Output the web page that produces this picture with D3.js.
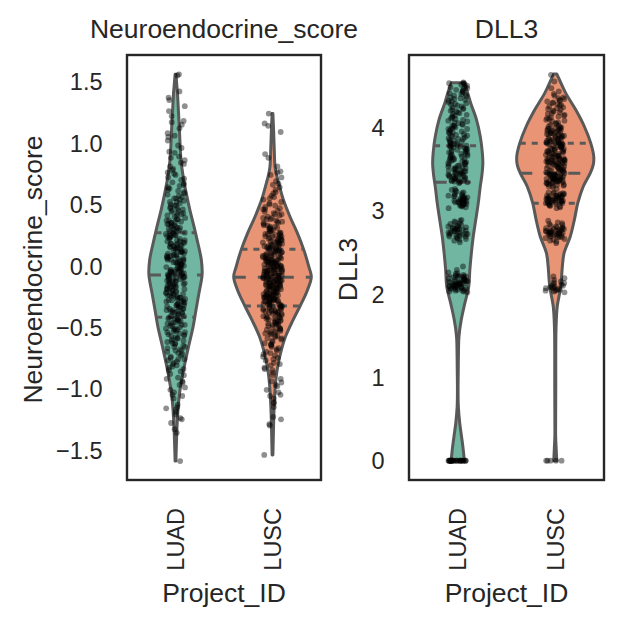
<!DOCTYPE html>
<html><head><meta charset="utf-8">
<script src="https://cdn.jsdelivr.net/npm/d3@7"></script>
<style>body{margin:0;background:#fff}</style>
</head><body>
<svg id="chart" width="623" height="623"></svg>
<script>
// ---------------- data ----------------
const categories = ["LUAD", "LUSC"];
const panelTitles = ["Neuroendocrine_score", "DLL3"];
const yLabels = ["Neuroendocrine_score", "DLL3"];
const xLabel = "Project_ID";
const neTicks = [-1.5, -1.0, -0.5, 0.0, 0.5, 1.0, 1.5];
const dllTicks = [0, 1, 2, 3, 4];
const neDomain = [-1.744, 1.717];
const dllDomain = [-0.232, 4.868];

// violin outlines: values and relative half-widths
const neLuadGrid = [-1.59,-1.45,-1.31,-1.17,-1.04,-0.90,-0.77,-0.63,-0.50,-0.36,-0.22,-0.07,0.05,0.18,0.32,0.45,0.59,0.72,0.86,1.00,1.13,1.25,1.40,1.45,1.56];
const neLuadDens = [0.010,0.023,0.039,0.064,0.103,0.175,0.258,0.356,0.451,0.528,0.606,0.686,0.665,0.580,0.477,0.374,0.278,0.201,0.142,0.116,0.098,0.077,0.052,0.039,0.010];
const neLuscGrid = [-1.54,-1.39,-1.25,-1.119,-0.98,-0.848,-0.712,-0.576,-0.44,-0.327,-0.196,-0.09,-0.006,0.13,0.265,0.40,0.54,0.67,0.74,0.81,0.94,1.08,1.24];
const neLuscDens = [0.010,0.021,0.031,0.046,0.072,0.119,0.206,0.335,0.531,0.711,0.902,1.000,0.936,0.807,0.644,0.451,0.278,0.162,0.103,0.064,0.046,0.031,0.010];
const dllLuadGrid = [0,0.15,0.29,0.45,0.65,0.85,1.09,1.29,1.49,1.69,1.89,2.09,2.29,2.49,2.69,2.89,3.09,3.29,3.43,3.57,3.69,3.89,4.09,4.29,4.43,4.536];
const dllLuadDens = [0.169,0.136,0.097,0.051,0.015,0.008,0.013,0.018,0.031,0.090,0.182,0.282,0.310,0.349,0.397,0.462,0.526,0.577,0.620,0.644,0.631,0.577,0.482,0.333,0.244,0.167];
const dllLuscGrid = [0,0.15,0.3,0.5,0.9,1.3,1.61,1.85,2.09,2.33,2.49,2.69,2.89,3.09,3.29,3.45,3.55,3.65,3.81,4.01,4.21,4.41,4.55,4.64];
const dllLuscDens = [0.038,0.023,0.010,0.010,0.013,0.013,0.021,0.051,0.141,0.182,0.226,0.385,0.490,0.577,0.718,0.897,0.974,0.987,0.910,0.746,0.526,0.269,0.128,0.038];

// quartiles (Q1, median, Q3)
const neLuadQuart = [-0.419, -0.074, 0.27];
const neLuscQuart = [-0.327, -0.093, 0.135];
const dllLuadQuart = [2.22, 3.34, 3.78];
const dllLuscQuart = [3.09, 3.45, 3.81];

// strip points
const neLuadPoints = [-1.59,-1.36,-1.33,-1.28,-1.25,-1.24,-1.21,-1.19,-1.17,-1.16,-1.15,-1.13,-1.08,-1.06,-1.05,-1.03,-1.01,
-0.99,-0.97,-0.95,-0.94,-0.92,-0.91,-0.89,-0.88,-0.86,-0.85,-0.84,-0.83,-0.82,-0.81,
-0.80,-0.79,-0.78,-0.77,-0.76,-0.76,-0.75,-0.74,-0.73,-0.72,-0.71,-0.70,
-0.69,-0.69,-0.68,-0.67,-0.66,-0.66,-0.65,-0.64,-0.63,-0.63,-0.62,-0.61,-0.61,-0.60,
-0.59,-0.59,-0.58,-0.57,-0.57,-0.56,-0.56,-0.55,-0.54,-0.54,-0.53,-0.53,-0.52,-0.52,-0.51,-0.51,-0.50,
-0.49,-0.49,-0.48,-0.48,-0.47,-0.47,-0.46,-0.46,-0.45,-0.45,-0.44,-0.44,-0.43,-0.43,-0.42,-0.42,-0.41,-0.41,-0.40,
-0.39,-0.39,-0.38,-0.38,-0.38,-0.37,-0.37,-0.36,-0.36,-0.35,-0.35,-0.35,-0.34,-0.34,-0.33,-0.33,-0.32,-0.32,-0.32,-0.31,-0.31,-0.30,
-0.30,-0.29,-0.29,-0.28,-0.28,-0.28,-0.27,-0.27,-0.26,-0.26,-0.26,-0.25,-0.25,-0.24,-0.24,-0.24,-0.23,-0.23,-0.22,-0.22,-0.22,-0.21,-0.21,-0.20,
-0.20,-0.19,-0.19,-0.19,-0.18,-0.18,-0.17,-0.17,-0.17,-0.16,-0.16,-0.15,-0.15,-0.15,-0.14,-0.14,-0.13,-0.13,-0.13,-0.12,-0.12,-0.11,-0.11,-0.11,-0.10,-0.10,
-0.10,-0.09,-0.09,-0.09,-0.08,-0.08,-0.08,-0.07,-0.07,-0.07,-0.06,-0.06,-0.06,-0.05,-0.05,-0.05,-0.04,-0.04,-0.04,-0.03,-0.03,-0.03,-0.02,-0.02,-0.01,-0.01,0.00,0.00,
0.01,0.01,0.01,0.02,0.02,0.03,0.03,0.03,0.04,0.04,0.05,0.05,0.05,0.06,0.06,0.06,0.07,0.07,0.08,0.08,0.08,0.09,0.09,0.09,0.10,0.10,
0.11,0.11,0.12,0.12,0.12,0.13,0.13,0.14,0.14,0.14,0.15,0.15,0.16,0.16,0.16,0.17,0.17,0.18,0.18,0.18,0.19,0.19,0.20,0.20,
0.21,0.21,0.22,0.22,0.23,0.23,0.24,0.24,0.25,0.25,0.25,0.26,0.26,0.27,0.27,0.28,0.28,0.29,0.29,0.30,0.30,
0.31,0.31,0.32,0.32,0.33,0.33,0.34,0.34,0.35,0.35,0.36,0.36,0.37,0.37,0.38,0.38,0.39,0.40,
0.41,0.41,0.42,0.43,0.43,0.44,0.45,0.45,0.46,0.47,0.47,0.48,0.49,0.49,0.50,
0.51,0.52,0.52,0.53,0.54,0.55,0.55,0.56,0.57,0.58,0.59,0.60,
0.61,0.62,0.63,0.64,0.65,0.66,0.67,0.68,0.70,0.71,0.72,0.74,0.75,0.76,0.78,0.79,
0.81,0.83,0.84,0.86,0.88,0.89,0.92,0.93,0.96,0.98,1.02,1.05,1.06,1.08,1.12,1.15,1.17,1.18,1.22,1.26,1.30,1.35,1.37,1.42,1.55,1.56];

const neLuscPoints = [-1.54,-1.30,-1.29,-1.25,-1.23,-1.15,-1.12,-1.11,-1.08,-1.06,-1.05,-1.03,-1.01,-0.98,-0.97,-0.95,-0.94,-0.92,
-0.89,-0.87,-0.85,-0.84,-0.83,-0.81,-0.80,-0.79,-0.77,-0.76,-0.75,-0.74,-0.73,-0.72,-0.71,
-0.70,-0.69,-0.68,-0.67,-0.66,-0.65,-0.64,-0.64,-0.63,-0.62,-0.61,-0.60,
-0.59,-0.59,-0.58,-0.57,-0.57,-0.56,-0.55,-0.55,-0.54,-0.54,-0.53,-0.53,-0.52,-0.52,-0.51,-0.51,-0.50,
-0.49,-0.49,-0.48,-0.48,-0.47,-0.47,-0.47,-0.46,-0.46,-0.45,-0.45,-0.44,-0.44,-0.44,-0.43,-0.43,-0.42,-0.42,-0.42,-0.41,-0.41,-0.40,-0.40,
-0.39,-0.39,-0.39,-0.38,-0.38,-0.38,-0.37,-0.37,-0.37,-0.36,-0.36,-0.36,-0.35,-0.35,-0.35,-0.34,-0.34,-0.34,-0.33,-0.33,-0.33,-0.32,-0.32,-0.32,-0.31,-0.31,-0.31,-0.30,-0.30,-0.30,
-0.29,-0.29,-0.29,-0.29,-0.28,-0.28,-0.28,-0.28,-0.27,-0.27,-0.27,-0.27,-0.26,-0.26,-0.26,-0.26,-0.25,-0.25,-0.25,-0.25,-0.24,-0.24,-0.24,-0.24,-0.23,-0.23,-0.23,-0.23,-0.22,-0.22,-0.22,-0.22,-0.21,-0.21,-0.21,-0.20,-0.20,
-0.19,-0.19,-0.19,-0.19,-0.18,-0.18,-0.18,-0.18,-0.17,-0.17,-0.17,-0.17,-0.16,-0.16,-0.16,-0.16,-0.15,-0.15,-0.15,-0.15,-0.14,-0.14,-0.14,-0.14,-0.13,-0.13,-0.13,-0.13,-0.12,-0.12,-0.12,-0.12,-0.11,-0.11,-0.11,-0.11,-0.11,-0.10,-0.10,-0.10,-0.10,
-0.09,-0.09,-0.09,-0.09,-0.08,-0.08,-0.08,-0.08,-0.07,-0.07,-0.07,-0.07,-0.06,-0.06,-0.06,-0.06,-0.05,-0.05,-0.05,-0.05,-0.04,-0.04,-0.04,-0.04,-0.03,-0.03,-0.03,-0.03,-0.02,-0.02,-0.02,-0.02,-0.01,-0.01,-0.01,-0.01,0.00,0.00,0.00,0.00,
0.01,0.01,0.01,0.01,0.02,0.02,0.02,0.02,0.03,0.03,0.03,0.03,0.04,0.04,0.04,0.04,0.05,0.05,0.05,0.05,0.06,0.06,0.06,0.06,0.07,0.07,0.07,0.08,0.08,0.08,0.09,0.09,0.09,0.10,0.10,0.10,
0.11,0.11,0.11,0.12,0.12,0.12,0.13,0.13,0.13,0.14,0.14,0.14,0.15,0.15,0.15,0.16,0.16,0.16,0.17,0.17,0.17,0.18,0.18,0.18,0.19,0.19,0.19,0.20,0.20,0.20,
0.21,0.21,0.21,0.22,0.22,0.22,0.23,0.23,0.24,0.24,0.24,0.25,0.25,0.26,0.26,0.26,0.27,0.27,0.28,0.28,0.29,0.29,0.30,0.30,
0.31,0.31,0.32,0.32,0.33,0.33,0.34,0.35,0.35,0.36,0.36,0.37,0.38,0.38,0.39,0.39,0.40,
0.41,0.42,0.42,0.43,0.44,0.45,0.46,0.46,0.47,0.48,0.49,0.50,
0.51,0.52,0.54,0.55,0.56,0.57,0.59,0.60,0.62,0.64,0.66,0.67,0.69,0.72,0.74,0.76,0.77,0.81,0.88,0.91,1.09,1.14,1.16,1.24];

const dllLuadPoints = [0,0,0,0,0,0,0,0,0,0,0,0,0,0,0,0,0,0,0,0,0,0,0,0,0,
2.02,2.03,2.03,2.04,2.04,2.05,2.05,2.06,2.06,2.07,2.07,2.07,2.08,2.08,2.08,2.09,2.09,2.09,2.10,2.10,2.10,2.11,2.11,2.11,2.12,2.12,2.12,2.13,2.13,2.13,2.14,2.14,2.14,2.15,2.15,2.15,2.16,2.16,2.16,2.17,2.17,2.18,2.18,2.19,2.19,2.20,2.20,2.21,2.21,2.22,2.22,2.23,2.24,2.25,2.26,
2.29,2.33,
2.62,2.64,2.65,2.66,2.67,2.68,2.69,2.69,2.70,2.70,2.71,2.71,2.72,2.72,2.73,2.73,2.74,2.74,2.75,2.75,2.76,2.76,2.77,2.77,2.78,2.78,2.79,2.79,2.80,2.80,2.81,2.81,2.82,2.83,2.84,2.85,2.86,2.87,2.88,2.89,
3.03,3.04,3.05,3.06,3.06,3.07,3.07,3.08,3.08,3.09,3.09,3.10,3.10,3.10,3.11,3.11,3.11,3.12,3.12,3.12,3.13,3.13,3.14,3.14,3.15,3.15,3.16,3.16,3.17,3.17,3.18,3.18,3.19,3.20,3.21,3.22,3.23,3.24,3.25,3.26,
3.33,3.34,3.34,3.35,3.35,3.36,3.36,3.37,3.37,3.38,3.38,3.39,3.39,3.40,3.40,3.41,3.41,3.42,3.42,3.43,3.43,3.44,3.44,3.45,3.45,3.46,3.46,3.47,3.47,3.48,3.48,3.49,3.50,3.50,
3.51,3.52,3.52,3.53,3.54,3.54,3.55,3.56,3.56,3.57,3.58,3.58,3.59,3.60,3.60,3.61,3.62,3.62,3.63,3.64,3.64,3.65,3.66,3.66,3.67,3.68,3.68,3.69,3.70,3.70,3.71,3.72,3.72,3.73,3.74,3.74,3.75,3.76,3.76,
3.77,3.77,3.78,3.78,3.79,3.79,3.80,3.80,
3.81,3.82,3.83,3.83,3.84,3.85,3.86,3.86,3.87,3.88,3.89,3.90,3.90,3.91,3.92,3.93,3.94,3.94,3.95,3.96,3.97,3.98,3.98,3.99,4.00,
4.01,4.02,4.02,4.03,4.04,4.05,4.06,4.07,4.08,4.09,4.10,4.11,4.12,4.13,4.14,4.15,4.16,4.17,4.18,4.19,4.20,4.21,4.22,4.23,4.24,4.25,4.26,4.27,4.28,4.29,4.30,4.31,4.32,4.33,4.34,4.35,4.36,4.37,4.38,4.39,4.40,4.41,4.42,4.43,4.44,4.45,4.46,4.47,4.48,4.49,4.50,4.51,4.52,4.53,4.53,4.54];

const dllLuscPoints = [0,0,0,0,0,
2.02,2.03,2.04,2.04,2.05,2.05,2.06,2.07,2.07,2.08,2.08,2.09,2.10,2.10,2.11,2.12,2.13,2.14,2.15,2.17,2.19,2.21,
2.61,2.63,2.64,2.65,2.66,2.67,2.68,2.68,2.69,2.69,2.70,2.70,2.71,2.71,2.72,2.72,2.72,2.73,2.73,2.73,2.74,2.74,2.74,2.75,2.75,2.75,2.76,2.76,2.76,2.77,2.77,2.78,2.78,2.79,2.79,2.80,2.80,2.81,2.82,2.83,2.84,2.85,2.86,2.88,
3.03,3.04,3.05,3.06,3.06,3.07,3.08,3.08,3.09,
3.09,3.10,3.10,3.10,3.11,3.11,3.11,3.12,3.12,3.12,3.13,3.13,3.13,3.14,3.14,3.14,3.15,3.15,3.15,3.16,3.16,3.16,3.17,3.17,3.17,3.18,3.18,3.18,3.19,3.19,3.20,3.20,3.21,3.21,3.22,3.22,
3.26,3.28,3.29,3.30,3.30,3.31,3.31,3.32,3.32,3.33,3.33,3.34,3.34,3.34,3.35,3.35,3.35,3.36,3.36,3.36,3.37,3.37,3.37,3.38,3.38,3.38,3.39,3.39,3.39,3.40,3.40,3.40,3.41,3.41,3.41,3.42,3.42,3.42,3.43,3.43,3.43,3.44,3.44,3.45,3.45,
3.46,3.46,3.47,3.47,3.48,3.48,3.49,3.49,3.50,3.50,3.51,3.51,3.52,3.52,3.53,3.53,3.54,3.54,3.55,3.55,3.56,3.56,3.57,3.57,3.57,3.58,3.58,3.58,3.59,3.59,3.59,3.60,3.60,3.60,3.61,3.61,3.61,3.62,3.62,3.62,
3.63,3.63,3.64,3.64,3.65,3.65,3.66,3.66,3.67,3.67,3.68,3.68,3.69,3.69,3.70,3.70,3.71,3.71,3.72,3.72,3.73,3.73,3.74,3.74,3.75,3.75,3.76,3.76,3.77,3.77,3.78,3.78,3.79,3.79,3.80,3.80,3.81,3.81,3.81,3.81,
3.82,3.82,3.83,3.83,3.84,3.84,3.85,3.85,3.86,3.86,3.87,3.87,3.88,3.88,3.89,3.89,3.90,3.90,3.91,3.91,3.92,3.92,3.93,3.93,3.94,3.94,3.95,3.95,3.96,3.96,3.97,3.97,3.98,3.98,3.99,3.99,4.00,4.00,
4.01,4.02,4.03,4.04,4.05,4.06,4.07,4.08,4.09,4.10,4.11,4.12,4.13,4.14,4.15,4.16,4.17,4.18,4.19,4.20,4.21,4.22,4.23,4.24,4.25,4.26,4.27,4.28,4.29,4.30,4.31,4.32,4.33,4.34,4.35,4.36,4.38,4.40,4.43,4.47,4.55,4.63];

const fillColors = ["#71b6a1", "#e99575"];

// ---------------- drawing ----------------
const svg = d3.select("#chart");
const FONT = "'Liberation Sans', Arial, Helvetica, sans-serif";
const TEXT = "#262626";
const EDGE = "#595959";
const yTop = 55, yBottom = 480;

const panels = [
  {title: panelTitles[0], ylabel: yLabels[0], domain: neDomain, ticks: neTicks, fmt: d3.format(".1f"),
   x0: 127, x1: 321, ylabelX: 41.5,
   groups: [
     {pts: neLuadPoints, grid: neLuadGrid, dens: neLuadDens, q: neLuadQuart},
     {pts: neLuscPoints, grid: neLuscGrid, dens: neLuscDens, q: neLuscQuart}]},
  {title: panelTitles[1], ylabel: yLabels[1], domain: dllDomain, ticks: dllTicks, fmt: d3.format("d"),
   x0: 409, x1: 604, ylabelX: 356.5,
   groups: [
     {pts: dllLuadPoints, grid: dllLuadGrid, dens: dllLuadDens, q: dllLuadQuart},
     {pts: dllLuscPoints, grid: dllLuscGrid, dens: dllLuscDens, q: dllLuscQuart}]}
];

function interp(grid, dens, v) {
  for (let k = 0; k < grid.length - 1; k++) {
    if (v >= grid[k] && v <= grid[k + 1]) {
      const t = (v - grid[k]) / (grid[k + 1] - grid[k]);
      return dens[k] + t * (dens[k + 1] - dens[k]);
    }
  }
  return 0;
}

// deterministic scatter of strip positions in [-1, 1]
function spread(k, i) {
  const s = Math.sin((k + 1) * 12.9898 + (i + 1) * 78.233) * 43758.5453;
  return (s - Math.floor(s)) * 2 - 1;
}

panels.forEach((p, pi) => {
  const x = d3.scalePoint().domain(categories).range([p.x0, p.x1]).padding(0.5);
  const y = d3.scaleLinear().domain(p.domain).range([yBottom, yTop]);
  const w = d3.scaleLinear().domain([0, 1]).range([0, x.step() * 0.4]);
  const g = svg.append("g");

  // violins
  p.groups.forEach((gr, i) => {
    const cx = x(categories[i]);
    const rows = gr.grid.map((v, k) => ({v: v, d: gr.dens[k]}));
    const area = d3.area()
      .y(d => y(d.v))
      .x0(d => cx - w(d.d))
      .x1(d => cx + w(d.d))
      .curve(d3.curveCatmullRom.alpha(0.5));
    g.append("path").attr("d", area(rows))
      .attr("fill", fillColors[i]).attr("stroke", EDGE)
      .attr("stroke-width", 3).attr("stroke-linejoin", "round");
    gr.q.forEach((qv, k) => {
      const hw = w(interp(gr.grid, gr.dens, qv));
      g.append("line")
        .attr("x1", cx - hw).attr("x2", cx + hw)
        .attr("y1", y(qv)).attr("y2", y(qv))
        .attr("stroke", EDGE).attr("stroke-width", 3)
        .attr("stroke-dasharray", k === 1 ? "12,12" : "6,6");
    });
  });

  // strip points
  const jit = x.step() * 0.1;
  p.groups.forEach((gr, i) => {
    const cx = x(categories[i]);
    g.append("g").selectAll("circle").data(gr.pts).join("circle")
      .attr("cx", (d, k) => cx + spread(k, i + 2 * pi) * jit)
      .attr("cy", d => y(d))
      .attr("r", 2.9)
      .attr("fill", "#000")
      .attr("fill-opacity", 0.44);
  });

  // frame
  g.append("rect").attr("x", p.x0).attr("y", yTop)
    .attr("width", p.x1 - p.x0).attr("height", yBottom - yTop)
    .attr("fill", "none").attr("stroke", TEXT).attr("stroke-width", 2.4);

  // y axis
  const ya = g.append("g").attr("transform", `translate(${p.x0},0)`)
    .call(d3.axisLeft(y).tickValues(p.ticks).tickFormat(p.fmt).tickSize(0).tickPadding(24.5));
  ya.select(".domain").remove();
  ya.selectAll("text").attr("font-family", FONT).attr("font-size", 23.5).attr("fill", TEXT).attr("dy", "0.35em");

  // x axis
  const xa = g.append("g").attr("transform", `translate(0,${yBottom})`)
    .call(d3.axisBottom(x).tickSize(0));
  xa.select(".domain").remove();
  xa.selectAll("text")
    .attr("font-family", FONT).attr("font-size", 23.5).attr("fill", TEXT)
    .attr("transform", "rotate(-90)")
    .attr("text-anchor", "end")
    .attr("x", -28).attr("y", 0).attr("dy", "0.35em");

  // title
  g.append("text").attr("x", (p.x0 + p.x1) / 2).attr("y", 38)
    .attr("text-anchor", "middle").attr("font-family", FONT).attr("font-size", 26.5)
    .attr("fill", TEXT).text(p.title);

  // y label
  g.append("text").attr("transform", `translate(${p.ylabelX},${(yTop + yBottom) / 2 + 2}) rotate(-90)`)
    .attr("text-anchor", "middle").attr("font-family", FONT).attr("font-size", 26.5)
    .attr("fill", TEXT).text(p.ylabel);

  // x label
  g.append("text").attr("x", (p.x0 + p.x1) / 2).attr("y", 602)
    .attr("text-anchor", "middle").attr("font-family", FONT).attr("font-size", 26.5)
    .attr("fill", TEXT).text(xLabel);
});
</script>
</body></html>
